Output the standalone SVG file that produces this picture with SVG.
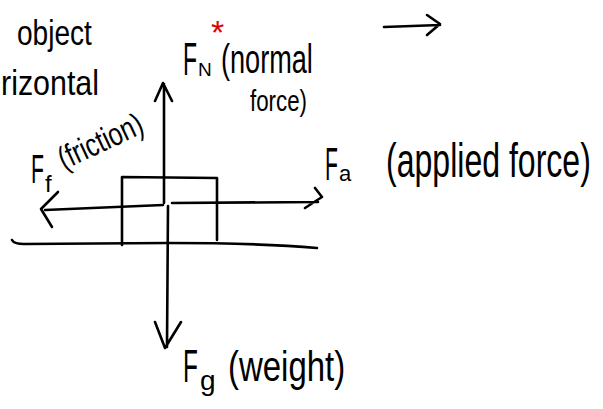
<svg xmlns="http://www.w3.org/2000/svg" width="603" height="409" viewBox="0 0 603 409">
<style>
.s{fill:none;stroke:#000;stroke-width:2.6;stroke-linecap:round;stroke-linejoin:round}
.t{font-family:"Liberation Sans","DejaVu Sans",sans-serif;fill:#000}
</style>
<rect width="603" height="409" fill="#fff"/>
<g id="notes">
<text class="t" font-size="36" transform="translate(17,45) scale(0.78,1)">object</text>
<text class="t" font-size="36" transform="translate(1,95) scale(0.845,1)">rizontal</text>
<path class="s" d="M384,27 L440,25 M427,15 L440,24 L427,35"/>
</g>
<g id="ground"><path class="s" d="M12,240 Q14,244 24,244 L167,243 Q260,243 317,248"/></g>
<g id="block"><path class="s" d="M122,245 L122,177 L217,178 L217,240"/></g>
<g id="connectors">
<path class="s" d="M164,203 L164,84 M155,101 L163,83 L172,101"/>
<path class="s" d="M168,206 L167,347 M155,322 L165,348 L181,322"/>
<path class="s" d="M45,210 L163,205 M172,203 L318,202 M315,188 L322,197 L305,208"/>
<path class="s" d="M58,192 L41,209 L52,227"/>
</g>
<g id="normal-label">
<text class="t" font-size="46" transform="translate(183,75) scale(0.5,1)">F</text>
<text class="t" x="198" y="76" font-size="19">N</text>
<text x="211" y="44" font-size="34" fill="#e00000" font-family="Liberation Sans,sans-serif">*</text>
<text class="t" font-size="40" transform="translate(221,73) scale(0.678,1)">(normal</text>
<text class="t" font-size="30" transform="translate(250,111) scale(0.743,1)">force)</text>
</g>
<g id="friction-label">
<text class="t" font-size="40" transform="translate(31,183) scale(0.53,1)">F</text>
<text class="t" x="45" y="192" font-size="24">f</text>
<text class="t" font-size="32" transform="translate(64,170) rotate(-25) scale(0.78,1)">(friction)</text>
</g>
<g id="applied-label">
<text class="t" font-size="46" transform="translate(325,180) scale(0.46,1)">F</text>
<text class="t" x="339" y="181" font-size="22">a</text>
<text class="t" font-size="48" transform="translate(386,177) scale(0.668,1)">(applied force)</text>
</g>
<g id="weight-label">
<text class="t" font-size="46" transform="translate(183,382) scale(0.53,1)">F</text>
<text class="t" x="200" y="390" font-size="28">g</text>
<text class="t" font-size="42" transform="translate(228,381) scale(0.785,1)">(weight)</text>
</g>
</svg>
